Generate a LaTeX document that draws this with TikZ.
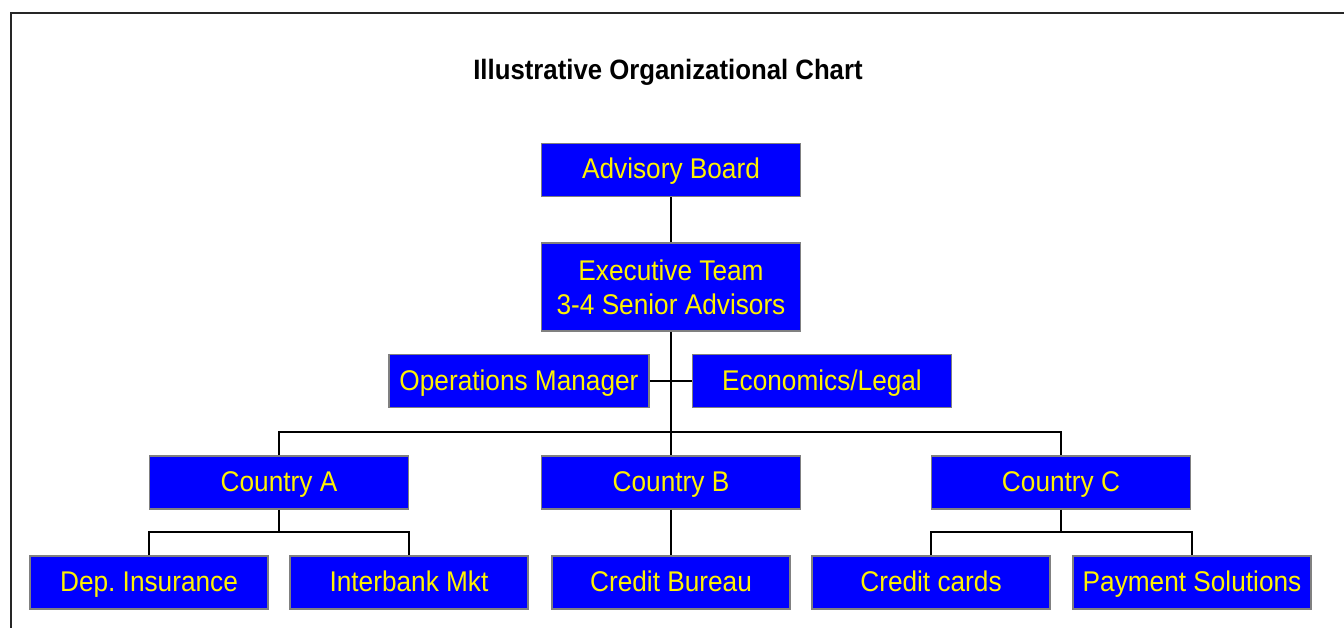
\documentclass[tikz,border=0pt]{standalone}
\usepackage{fontspec}
\setmainfont{Liberation Sans}[FakeStretch=0.92]
\frenchspacing
\begin{document}
\begin{tikzpicture}[x=1pt,y=-1pt,
  boxbase/.style={draw=gray, line width=1.6pt, fill=blue, text=yellow,
    minimum width=259pt, minimum height=53pt, inner sep=0pt,
    font=\fontsize{28.5}{34}\selectfont, align=center},
  unit/.style={boxbase, text height=22pt, text depth=4pt},
  leaf/.style={unit, minimum width=238pt},
  link/.style={draw=black, line width=2pt}]
\useasboundingbox (0,0) rectangle (1344,628);
\fill[white] (0,0) rectangle (1344,628);
\begin{scope}
  \clip (0,0) rectangle (1344,628);
  \draw[line width=2.6pt, black!85] (11,13) rectangle (1360,650);
\end{scope}

\node[font=\bfseries\fontsize{28}{32}\selectfont] (title) at (668,72) {Illustrative Organizational Chart};

% top of the hierarchy
\node[unit] (board) at (671,170) {Advisory Board};
\node[boxbase, minimum height=88pt] (exec) at (671,287) {Executive Team\\3-4 Senior Advisors};
\node[unit, minimum width=260pt] (ops) at (519,381) {Operations Manager};
\node[unit] (econ) at (822,381) {Economics/Legal};

% countries
\node[unit] (ca) at (279,482.5) {Country A};
\node[unit] (cb) at (671,482.5) {Country B};
\node[unit] (cc) at (1061,482.5) {Country C};

% functions under each country
\node[leaf] (dep) at (149,582.5) {Dep. Insurance};
\node[leaf] (ib) at (409,582.5) {Interbank Mkt};
\node[leaf] (cbur) at (671,582.5) {Credit Bureau};
\node[leaf] (cards) at (931,582.5) {Credit cards};
\node[leaf] (pay) at (1192,582.5) {Payment Solutions};

\coordinate (bar) at (671,432);
\coordinate (barA) at (279,532);
\coordinate (barC) at (1061,532);

\draw[link] (board.south) -- (exec.north);
\draw[link] (exec.south) -- (cb.north);
\draw[link] (ops.east) -- (econ.west);
\draw[link] (ca.north) |- (bar) -| (cc.north);
\draw[link] (ca.south) -- (barA);
\draw[link] (dep.north) |- (barA) -| (ib.north);
\draw[link] (cb.south) -- (cbur.north);
\draw[link] (cc.south) -- (barC);
\draw[link] (cards.north) |- (barC) -| (pay.north);
\end{tikzpicture}
\end{document}
